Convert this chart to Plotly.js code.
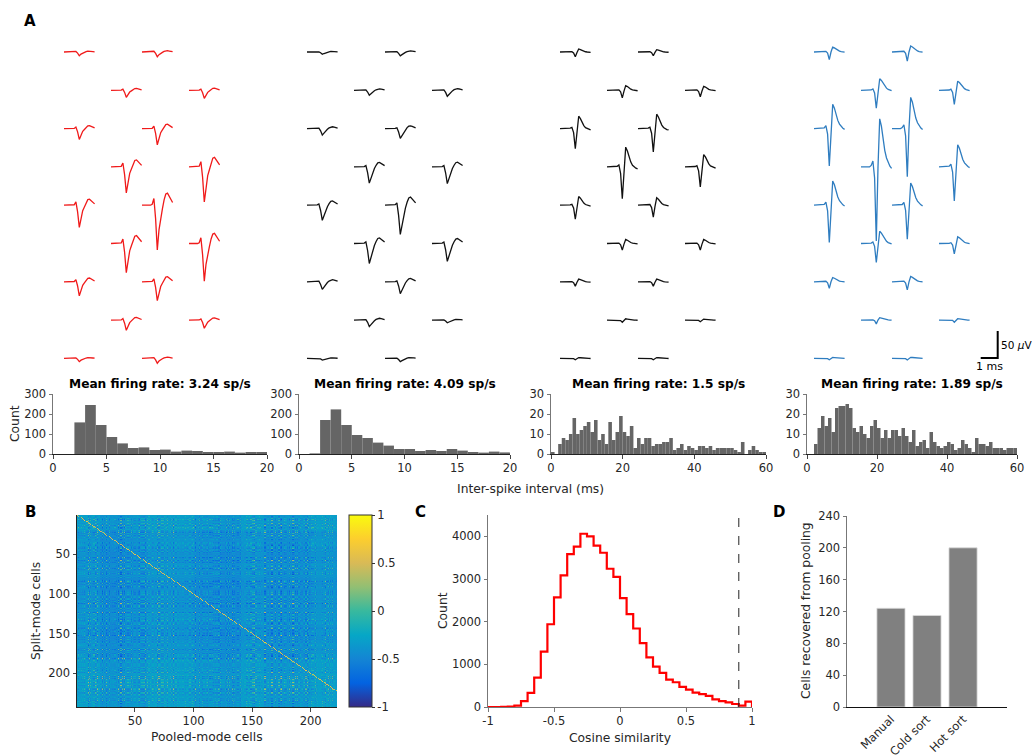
<!DOCTYPE html>
<html><head><meta charset="utf-8">
<script src="https://cdn.plot.ly/plotly-3.0.1.min.js"></script>
<style>html,body{margin:0;padding:0;background:#fff}#fig{width:1032px;height:755px}</style>
</head><body><div id="fig"></div>
<script>
// ---------------- DATA ----------------
// Waveform templates (normalised, trough = -1), sampled every 0.1 ms over 1.8 ms
const templateRed   = [0,0,0.01,0,0,0,0.02,0.15,-0.3,-1.0,-0.55,-0.25,-0.08,0.12,0.25,0.27,0.2,0.12,0.06];
const templateBlk1  = [0,0,0,0,0,0,0.02,0.08,-0.35,-1.0,-0.7,-0.35,-0.1,0.1,0.25,0.28,0.22,0.14,0.08];
const templateBlk2  = [0,0,0,0,0,0,0.02,0.06,-0.2,-1.0,-0.1,0.62,0.5,0.3,0.15,0.05,0,-0.04,-0.06];
const templateBlue  = [0,0,0,0,0,0,0.02,0.08,-0.15,-1.0,0.0,0.65,0.55,0.38,0.22,0.12,0.05,0.01,-0.02];
// Trough amplitude (µV) per channel, 9 rows x 2 sites
const ampRed  = [7,9, 13,15, 20,30, 48,65, 41,83, 54,70, 26,35, 19,15, 6,9];
const ampBlk1 = [4,7, 9,11, 12,18, 30,31, 28,54, 37,33, 14,22, 12,5, 3,6];
const ampBlk2 = [9,7, 14,12, 37,43, 59,37, 26,22, 12,12, 8,8, 4,3, 2.5,2.5];
const ampBlue = [14,17, 33,26, 69,89, 137,63, 69,63, 35,19, 12,15, 7,4, 2.5,3];
const unitColors = ['#f01a1a','#111111','#111111','#2f7dc0'];

// ISI histograms (1 ms bins)
const isiTitles = ['Mean firing rate: 3.24 sp/s','Mean firing rate: 4.09 sp/s','Mean firing rate: 1.5 sp/s','Mean firing rate: 1.89 sp/s'];
const isi1 = [0,0,158,245,145,85,53,30,33,20,22,12,17,15,10,10,12,7,10,10];
const isi2 = [0,3,170,223,145,95,80,57,42,25,25,15,20,15,25,17,10,7,12,8];
const isi3 = [1,0,5,8,7,10,18,10,12,14, 16,11,17,7,10,5,16,7,11,19, 11,9,14,3,8,5,8,8,4,5, 5,6,6,8,2,3,5,2,4,3, 2,4,4,3,4,2,3,3,3,3, 3,2,1,6,0,2,4,2,1,1];
const isi4 = [0,0,5,13,19,14,18,11,23,24, 24,25,23,13,11,14,10,8,14,17, 13,8,12,8,12,12,9,13,9,6, 12,4,6,7,3,11,6,4,3,4, 6,5,2,3,7,5,3,1,8,5, 5,4,6,3,3,3,2,3,3,3];

// Panel B: similarity matrix texture estimates (streak levels per row / column, digits 0-9)
const nRows = 242, nCols = 222;
const rowTexA = "3817402956174930582650938172648264017395073826194546295081379170364825258690371463018572497945120368135872469080426951375697031824201458976373628401594985172036062395741834718062959150243867683951270427084693515246193078839107654215673849204 8".replace(/ /g,'');
const colTexA = "5172839460834610295729057168436418293075906352817437591402860824675319753196204841970836251685324790694205781323706194588516437029028974615376438159023058291764942156038718079342565936028471276438109581504736294613709582 37".replace(/ /g,'');
const rowTexB = "6294081735205739614874816205931936574820580291346731687420598435067912071928354646508192739273456108258613094770419683251397825460682504379131506972848962341570470815263905347869129287610354561309742824793580167036124589185246973069485012 67".replace(/ /g,'');
const colTexB = "2938475610706192385448592017361374586092862013745952976041833146852907960341827507825391646415970328183926405740571836927920345816368175294052740963810196827543854361072963289451072715038694946217083508539264713109854276 64".replace(/ /g,'');
const rowBand = [0.06,0.0,-0.03,0.0,-0.04,-0.02,0.0,-0.03,0.0,0.05,0.08,0.06,0.07];
const colBand = [0.02,-0.05,-0.02,0.03,0.02,-0.03,-0.05,0.02,-0.03,-0.02,0.03,0.0];

// Panel C: cosine similarity histogram (bin width 0.05, from -1 to 1)
const cosCounts = [0,0,5,10,30,140,330,690,1300,1940,2570,3085,3585,3760,4060,4000,3780,3615,3240,3050,2550,2175,1840,1495,1165,945,800,640,580,470,405,335,300,260,180,140,110,70,30,125];
const cosThreshold = 0.9;

// Panel D
const methods = ['Manual','Cold sort','Hot sort'];
const recovered = [124,115,200];

// ---------------- LAYOUT HELPERS ----------------
const W = 1032, H = 755;
const FONT = 'DejaVu Sans, sans-serif';
const TXT = '#262626';
const fx = p => p / W;
const fy = p => 1 - p / H;
const PX_MS = 17, PX_UV = 27 / 50;   // scale-bar calibration
const dt = 0.1;

const traces = [];
const templates = [templateRed, templateBlk1, templateBlk2, templateBlue];
const amps = [ampRed, ampBlk1, ampBlk2, ampBlue];
const unitX = [64, 307, 560, 814];
const siteColOff = [0, 47, 78, 125];
const rowY0 = 52, rowPitch = 38.3;

for (let u = 0; u < 4; u++) {
  const xs = [], ys = [];
  for (let k = 0; k < amps[u].length; k++) {
    const row = Math.floor(k / 2), which = k % 2;
    const pc = (row % 2 === 0) ? [0, 2][which] : [1, 3][which];
    const x0 = (unitX[u] + siteColOff[pc]) / PX_MS;
    const yb = -(rowY0 + row * rowPitch) / PX_UV;
    templates[u].forEach((v, i) => { xs.push(x0 + i * dt); ys.push(yb + amps[u][k] * v); });
    xs.push(null); ys.push(null);
  }
  traces.push({type:'scatter', mode:'lines', x:xs, y:ys, xaxis:'x', yaxis:'y',
    line:{color:unitColors[u], width:1.3}, hoverinfo:'skip', showlegend:false});
}
// scale bar: 1 ms x 50 uV
{
  const xe = 997.7 / PX_MS, yb = -358 / PX_UV;
  traces.push({type:'scatter', mode:'lines', x:[xe - 1, xe, xe], y:[yb, yb, yb + 50],
    xaxis:'x', yaxis:'y', line:{color:'#000', width:2}, hoverinfo:'skip', showlegend:false});
}

// ISI hists
const isiData = [isi1, isi2, isi3, isi4];
const histDom = [[53,267],[299,510],[551,766],[807,1017]];
const histX = [20,20,60,60], histY = [300,300,30,30];
const histTicksX = [[0,5,10,15,20],[0,5,10,15,20],[0,20,40,60],[0,20,40,60]];
const histTicksY = [[0,100,200,300],[0,100,200,300],[0,10,20,30],[0,10,20,30]];
const layout = {
  width: W, height: H, margin:{l:0,r:0,t:0,b:0},
  paper_bgcolor:'#fff', plot_bgcolor:'rgba(0,0,0,0)',
  font:{family:FONT, size:11.5, color:TXT}, showlegend:false, hovermode:false,
  xaxis:{domain:[0,1], range:[0, W/PX_MS], visible:false, fixedrange:true},
  yaxis:{domain:[0,1], range:[-H/PX_UV, 0], visible:false, fixedrange:true},
  annotations:[], shapes:[]
};
const tickFont = {family:FONT, size:11.5, color:TXT};
for (let h = 0; h < 4; h++) {
  const n = h + 2;
  const data = isiData[h];
  traces.push({type:'bar', x:data.map((_, i) => i + 0.5), y:data, width:1,
    marker:{color:'#656565', line:{width:0}}, xaxis:'x'+n, yaxis:'y'+n, showlegend:false});
  layout['xaxis'+n] = {domain:[fx(histDom[h][0]), fx(histDom[h][1])], range:[0, histX[h]],
    anchor:'y'+n, showline:true, linecolor:'#222', linewidth:1, ticks:'outside', ticklen:3.5,
    tickcolor:'#444', tickvals:histTicksX[h], showgrid:false, zeroline:false, tickfont:tickFont, fixedrange:true};
  layout['yaxis'+n] = {domain:[fy(454), fy(394)], range:[0, histY[h]], anchor:'x'+n,
    showline:true, linecolor:'#777', linewidth:1, ticks:'outside', ticklen:3.5, tickcolor:'#777',
    tickvals:histTicksY[h], showgrid:false, zeroline:false, tickfont:tickFont, fixedrange:true};
  layout.annotations.push({text:'<b>'+isiTitles[h]+'</b>', xref:'paper', yref:'paper',
    x:fx((histDom[h][0]+histDom[h][1])/2), y:fy(384), xanchor:'center', yanchor:'middle',
    showarrow:false, font:{family:FONT, size:12.2, color:'#000'}});
}

// Heatmap
const dig = (s, i) => (parseInt(s[i % s.length], 10) - 4.5) / 4.5;
const z = [];
for (let i = 0; i < nRows; i++) {
  const r = [];
  for (let j = 0; j < nCols; j++) {
    const p = dig(rowTexA, i) * dig(colTexA, j);
    const q = dig(rowTexB, i) * dig(colTexB, j);
    const s = dig(rowTexA, i) * dig(colTexB, j);
    const t = dig(rowTexB, i) * dig(colTexA, j);
    let v = -0.4 + rowBand[Math.floor(i/20)] + colBand[Math.floor(j/20)]
            + 0.18*p + 0.13*q + 0.1*s + 0.09*t + 0.4*p*q;
    if (i === j) v = 0.55 + 0.15 * dig(colTexA, j);
    r.push(Math.max(-0.8, Math.min(1, v)));
  }
  z.push(r);
}
const parula = [[0,'#352A87'],[0.125,'#0363E1'],[0.25,'#1485D4'],[0.375,'#06A7C6'],[0.5,'#38B99E'],[0.625,'#92BF73'],[0.75,'#D9BA56'],[0.875,'#FCCE2E'],[1,'#F9FB0E']];
traces.push({type:'heatmap', z:z, x0:1, dx:1, y0:1, dy:1, zmin:-1, zmax:1, colorscale:parula,
  xaxis:'x6', yaxis:'y6', hoverinfo:'skip',
  colorbar:{x:fx(349), xanchor:'left', xpad:0, y:fy(611), yanchor:'middle', ypad:0,
    len:192, lenmode:'pixels', thickness:23, outlinewidth:1, outlinecolor:'#333',
    tickvals:[-1,-0.5,0,0.5,1], ticktext:['-1','-0.5','0','0.5','1'], ticks:'outside', ticklen:3,
    tickcolor:'#333', tickfont:tickFont}});
layout.xaxis6 = {domain:[fx(77), fx(337)], range:[0.5, nCols+0.5], anchor:'y6', showline:true,
  linecolor:'#222', ticks:'outside', ticklen:3.5, tickvals:[50,100,150,200], showgrid:false, zeroline:false, tickfont:tickFont, fixedrange:true};
layout.yaxis6 = {domain:[fy(707), fy(515)], range:[nRows+0.5, 0.5], anchor:'x6', showline:true,
  linecolor:'#222', ticks:'outside', ticklen:3.5, tickvals:[50,100,150,200], showgrid:false, zeroline:false, tickfont:tickFont, fixedrange:true};

// Panel C
const binW = 2 / cosCounts.length;
const cx = cosCounts.map((_, i) => -1 + i * binW).concat([1, 1]);
const cy = cosCounts.concat([cosCounts[cosCounts.length-1], 0]);
traces.push({type:'scatter', mode:'lines', x:cx, y:cy, line:{shape:'hv', color:'#ff0000', width:2.2},
  xaxis:'x7', yaxis:'y7', showlegend:false, cliponaxis:false});
layout.xaxis7 = {domain:[fx(488), fx(752)], range:[-1, 1], anchor:'y7', showline:true, linecolor:'#777',
  ticks:'outside', ticklen:3.5, tickcolor:'#777', tickvals:[-1,-0.5,0,0.5,1], ticktext:['-1','-0.5','0','0.5','1'],
  showgrid:false, zeroline:false, tickfont:tickFont, fixedrange:true};
layout.yaxis7 = {domain:[fy(707), fy(515)], range:[0, 4500], anchor:'x7', showline:true, linecolor:'#777',
  ticks:'outside', ticklen:3.5, tickcolor:'#777', tickvals:[0,1000,2000,3000,4000], showgrid:false, zeroline:false, tickfont:tickFont, fixedrange:true};
layout.shapes.push({type:'line', xref:'x7', yref:'y7', x0:cosThreshold, x1:cosThreshold, y0:0, y1:4500,
  line:{color:'#222', width:1, dash:'dash'}});

// Panel D
traces.push({type:'bar', x:[0,1,2], y:recovered, width:0.78, marker:{color:'#808080', line:{color:'#d9d9d9', width:0.8}},
  xaxis:'x8', yaxis:'y8', showlegend:false});
layout.xaxis8 = {domain:[fx(847), fx(1007)], range:[-1.22, 3.22], anchor:'y8', showline:true, linecolor:'#111',
  ticks:'', tickvals:[0,1,2], ticktext:methods, tickangle:-45, showgrid:false, zeroline:false, tickfont:tickFont, fixedrange:true};
layout.yaxis8 = {domain:[fy(707), fy(516)], range:[0, 240], anchor:'x8', showline:true, linecolor:'#777',
  ticks:'outside', ticklen:3.5, tickcolor:'#777', tickvals:[0,40,80,120,160,200,240], showgrid:false, zeroline:false, tickfont:tickFont, fixedrange:true};

// text annotations
const LAB = {family:FONT, size:12.3, color:TXT};
const ann = (text, px, py, opts={}) => layout.annotations.push(Object.assign({text, xref:'paper', yref:'paper',
  x:fx(px), y:fy(py), xanchor:'center', yanchor:'middle', showarrow:false, font:LAB}, opts));
ann('<b>A</b>', 30, 21, {font:{family:FONT, size:15, color:'#000'}});
ann('<b>B</b>', 30, 512, {font:{family:FONT, size:15, color:'#000'}});
ann('<b>C</b>', 420, 512, {font:{family:FONT, size:15, color:'#000'}});
ann('<b>D</b>', 779, 512, {font:{family:FONT, size:15, color:'#000'}});
ann('Inter-spike interval (ms)', 530, 489);
ann('Count', 15, 424, {textangle:-90});
ann('Pooled-mode cells', 207, 737);
ann('Split-mode cells', 36, 611, {textangle:-90});
ann('Cosine similarity', 620, 738);
ann('Count', 443, 611, {textangle:-90});
ann('Cells recovered from pooling', 806, 611, {textangle:-90});
ann('50 <i>μ</i>V', 999, 345, {xanchor:'left', font:{family:FONT, size:10.5, color:'#000'}});
ann('1 ms', 989, 366, {font:{family:FONT, size:11, color:'#000'}});

Plotly.newPlot('fig', traces, layout, {staticPlot:true, displayModeBar:false});
</script>
</body></html>
